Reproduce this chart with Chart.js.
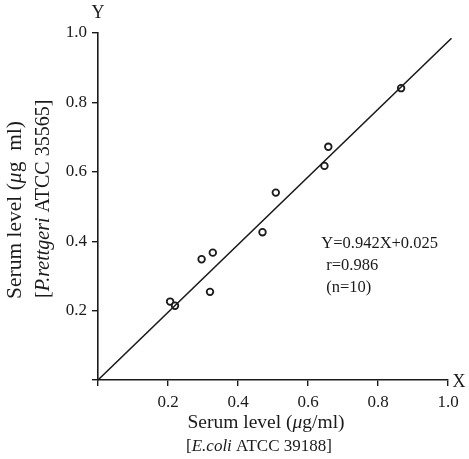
<!DOCTYPE html>
<html>
<head>
<meta charset="utf-8">
<script src="https://cdn.jsdelivr.net/npm/chart.js@4.4.0/dist/chart.umd.min.js"></script>
<style>
  html, body { margin: 0; padding: 0; background: #fff; }
  #wrap { width: 469px; height: 459px; }
</style>
</head>
<body>
<div id="wrap"><canvas id="myChart" width="469" height="459"></canvas></div>
<script>
// measured points (E.coli level vs P.rettgeri level)
var xVals = [0.206, 0.220, 0.296, 0.320, 0.328, 0.470, 0.508, 0.647, 0.658, 0.866];
var yVals = [0.226, 0.214, 0.348, 0.254, 0.367, 0.426, 0.540, 0.617, 0.672, 0.841];

// regression line as drawn
var fitX = [0, 1.01];
var fitY = [0, 0.985];

var tickVals = [0, 0.2, 0.4, 0.6, 0.8, 1.0];

var equation = ['Y=0.942X+0.025', 'r=0.986', '(n=10)'];

var SERIF = '"Liberation Serif", "DejaVu Serif", serif';
var INK = '#1a1a1a';

var points = xVals.map(function(x, i) { return {x: x, y: yVals[i]}; });
var fitLine = fitX.map(function(x, i) { return {x: x, y: fitY[i]}; });

function drawRich(ctx, parts, x, y, size) {
	var total = 0;
	parts.forEach(function(p) {
		ctx.font = (p[1] ? 'italic ' : '') + size + 'px ' + SERIF;
		total += ctx.measureText(p[0]).width;
	});
	var cx = x - total / 2;
	parts.forEach(function(p) {
		ctx.font = (p[1] ? 'italic ' : '') + size + 'px ' + SERIF;
		ctx.fillText(p[0], cx, y);
		cx += ctx.measureText(p[0]).width;
	});
}

var textPlugin = {
	id: 'texts',
	afterDraw: function(chart) {
		var ctx = chart.ctx;
		var a = chart.chartArea;
		var xs = chart.scales.x, ys = chart.scales.y;
		ctx.save();
		ctx.fillStyle = INK;
		ctx.textBaseline = 'middle';
		ctx.textAlign = 'left';

		// axis letters
		ctx.font = '18px ' + SERIF;
		ctx.textAlign = 'center';
		ctx.fillText('Y', a.left, a.top - 20);
		ctx.fillText('X', a.right + 11, a.bottom + 2);
		ctx.textAlign = 'left';

		// x title
		drawRich(ctx, [['Serum level (', false], ['\u03bc', true], ['g/ml)', false]], xs.getPixelForValue(0.48), a.bottom + 43, 19.5);
		drawRich(ctx, [['[', false], ['E.coli', true], [' ATCC 39188]', false]], xs.getPixelForValue(0.46), a.bottom + 67, 17);

		// y title
		ctx.save();
		ctx.translate(a.left - 83, ys.getPixelForValue(0.49));
		ctx.rotate(-Math.PI / 2);
		drawRich(ctx, [['Serum level (', false], ['\u03bc', true], ['g\u2002ml)', false]], 0, 0, 21.5);
		ctx.restore();
		ctx.save();
		ctx.translate(a.left - 54, ys.getPixelForValue(0.522));
		ctx.rotate(-Math.PI / 2);
		drawRich(ctx, [['[', false], ['P.rettgeri', true], [' ATCC 35565]', false]], 0, 0, 20);
		ctx.restore();

		// regression text
		ctx.font = '16.5px ' + SERIF;
		ctx.fillText(equation[0], xs.getPixelForValue(0.638), ys.getPixelForValue(0.394));
		ctx.fillText(equation[1], xs.getPixelForValue(0.652), ys.getPixelForValue(0.33));
		ctx.fillText(equation[2], xs.getPixelForValue(0.652), ys.getPixelForValue(0.267));
		ctx.restore();
	}
};

var ctx = document.getElementById('myChart').getContext('2d');
var chart = new Chart(ctx, {
	type: 'scatter',
	data: {
		datasets: [{
			label: 'fit',
			type: 'line',
			data: fitLine,
			borderColor: INK,
			borderWidth: 1.6,
			pointRadius: 0,
			fill: false,
			clip: false
		}, {
			label: 'samples',
			data: points,
			pointRadius: 3.3,
			pointBorderWidth: 1.8,
			pointBackgroundColor: '#fff',
			pointBorderColor: INK
		}]
	},
	options: {
		responsive: false,
		animation: false,
		layout: { padding: { top: 33, right: 21, left: 0, bottom: 0 } },
		plugins: {
			legend: { display: false },
			tooltip: { enabled: false }
		},
		scales: {
			x: {
				type: 'linear',
				min: 0,
				max: 1,
				afterBuildTicks: function(s) { s.ticks = tickVals.map(function(v) { return {value: v}; }); },
				afterFit: function(s) { s.height = 79; },
				grid: { drawOnChartArea: false, drawTicks: true, tickLength: 6, color: INK, lineWidth: 1.4 },
				border: { display: true, color: INK, width: 1.6 },
				ticks: {
					color: INK,
					padding: 6,
					font: { family: SERIF, size: 17 },
					callback: function(v) { return v === 0 ? '' : v.toFixed(1); }
				}
			},
			y: {
				type: 'linear',
				min: 0,
				max: 1,
				afterBuildTicks: function(s) { s.ticks = tickVals.map(function(v) { return {value: v}; }); },
				afterFit: function(s) { s.width = 98; },
				grid: { drawOnChartArea: false, drawTicks: true, tickLength: 6, color: INK, lineWidth: 1.4 },
				border: { display: true, color: INK, width: 1.6 },
				ticks: {
					color: INK,
					padding: 5,
					font: { family: SERIF, size: 17 },
					callback: function(v) { return v === 0 ? '' : v.toFixed(1); }
				}
			}
		}
	},
	plugins: [textPlugin]
});
</script>
</body>
</html>
